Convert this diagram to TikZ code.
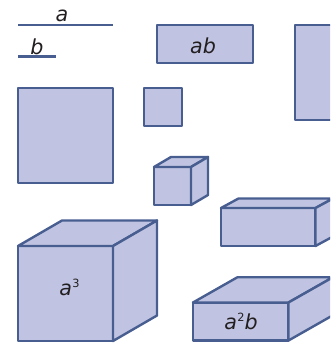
\documentclass[tikz,border=0pt]{standalone}
\usepackage{fontspec}
\setmainfont{DejaVu Sans}
\usepackage{xcolor}
\definecolor{boxfill}{RGB}{192,196,226}
\definecolor{boxline}{RGB}{72,94,144}
\definecolor{labelgray}{RGB}{35,31,32}
\newcommand{\powr}[1]{\kern0.3pt\raisebox{6pt}{\normalfont\fontsize{8.5}{9}\selectfont #1}}
\tikzset{
    solid box/.style={draw=boxline,fill=boxfill,line width=1.8pt,line join=round},
    segment/.style={draw=boxline,line width=1.8pt},
    letter/.style={text=labelgray,font=\fontsize{15.5}{17}\selectfont\itshape,inner sep=0pt}
}
\begin{document}
\begin{tikzpicture}[x=0.75pt,y=-0.75pt]
    \clip (0,0) rectangle (330,343);
    % segments
    \draw[segment] (18,25) -- (113,25);
    \draw[segment] (18,56.5) -- (56,56.5);
    \node[letter] (lenA) at (62,15.5) {a};
    \node[letter] (lenB) at (37,46.5) {b};
    % flat pieces
    \foreach \x/\y/\w/\h in {157/25/96/38,295/25/96/95,18/88/95/95,144/88/38/38} {
        \draw[solid box] (\x,\y) rectangle ++(\w,\h);
    }
    \node[letter] (areaAB) at (203,46) {ab};
    % solids: corner of front face, its size, depth
    \foreach \x/\y/\w/\h/\dx/\dy in {154/167/37/38/17/-10,221/208/94.5/38/17.5/-9.5,18/246/95/95/44/-25.5,193/302.5/95.5/38/44.5/-25.3} {
        \draw[solid box] (\x,\y) rectangle ++(\w,\h);
        \draw[solid box] (\x,\y) -- ++(\dx,\dy) -- ++(\w,0) -- ++(-\dx,-\dy) -- cycle;
        \draw[solid box] (\x+\w,\y) -- ++(\dx,\dy) -- ++(0,\h) -- ++(-\dx,-\dy) -- cycle;
    }
    \node[letter] (volCube) at (69.5,287.5) {a\powr{3}};
    \node[letter] (volFlat) at (241,321) {a\powr{2}b};
\end{tikzpicture}
\end{document}
